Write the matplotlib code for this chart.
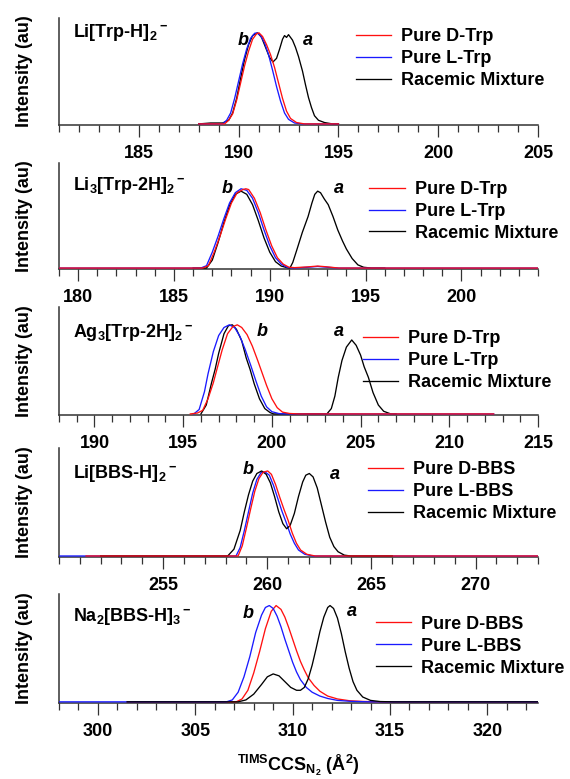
import matplotlib
matplotlib.use("Agg")
import matplotlib.pyplot as plt
from matplotlib.ticker import MultipleLocator, FixedLocator

plt.rcParams["font.family"] = ["Liberation Sans", "DejaVu Sans"]
plt.rcParams["font.weight"] = "bold"
plt.rcParams["font.size"] = 13
plt.rcParams["mathtext.fontset"] = "custom"
plt.rcParams["mathtext.rm"] = "Liberation Sans:bold"
plt.rcParams["mathtext.bf"] = "Liberation Sans:bold"
plt.rcParams["mathtext.it"] = "Liberation Sans:bold:italic"
plt.rcParams["mathtext.default"] = "bf"

# ---- panel 1: Li[Trp-H]2-
li_trp_d_x = [188.0, 189.3, 189.5, 189.7, 189.9, 190.1, 190.3, 190.5, 190.7, 190.9, 191.02,
              191.2, 191.4, 191.6, 191.8, 192.0, 192.2, 192.4, 192.6, 192.9, 193.3, 195.0]
li_trp_d_y = [0, 0, 0.04, 0.11, 0.26, 0.45, 0.64, 0.80, 0.93, 0.99, 1.0,
              0.96, 0.87, 0.76, 0.62, 0.45, 0.28, 0.14, 0.06, 0.015, 0, 0]
li_trp_l_x = [188.0, 189.2, 189.4, 189.6, 189.8, 190.0, 190.2, 190.4, 190.6, 190.8, 190.92,
              191.1, 191.3, 191.5, 191.7, 191.9, 192.1, 192.3, 192.5, 192.8, 193.2, 195.0]
li_trp_l_y = [0, 0, 0.04, 0.12, 0.28, 0.47, 0.66, 0.82, 0.94, 0.995, 1.0,
              0.97, 0.89, 0.76, 0.59, 0.41, 0.25, 0.12, 0.05, 0.01, 0, 0]
li_trp_rac_x = [188.0, 188.6, 189.2, 189.5, 189.7, 189.9, 190.1, 190.3, 190.5, 190.7, 190.95,
                191.15, 191.35, 191.55, 191.72, 191.9, 192.05, 192.2, 192.3, 192.4, 192.5,
                192.6, 192.7, 192.85, 193.0, 193.2, 193.35, 193.5, 193.65, 193.8, 194.0,
                194.3, 194.7, 195.0]
li_trp_rac_y = [0, 0.01, 0.01, 0.04, 0.12, 0.28, 0.50, 0.71, 0.87, 0.97, 1.0,
                0.95, 0.84, 0.73, 0.68, 0.72, 0.82, 0.93, 0.97, 0.95, 0.98,
                0.95, 0.92, 0.84, 0.74, 0.58, 0.43, 0.29, 0.18, 0.09, 0.04,
                0.015, 0, 0]

# ---- panel 2: Li3[Trp-2H]2-
li3_trp_d_x = [179.0, 186.5, 186.8, 187.1, 187.4, 187.7, 188.0, 188.3, 188.6, 188.75, 188.9,
               189.2, 189.5, 189.8, 190.1, 190.4, 190.7, 191.0, 191.3, 192.0, 192.5, 193.0,
               193.6, 204.0]
li3_trp_d_y = [0, 0, 0.03, 0.2, 0.40, 0.62, 0.82, 0.95, 0.99, 1.0, 0.99,
               0.88, 0.70, 0.48, 0.28, 0.13, 0.05, 0.01, 0.005, 0.015, 0.025, 0.015,
               0, 0]
li3_trp_l_x = [179.0, 186.4, 186.7, 187.0, 187.3, 187.6, 187.9, 188.2, 188.5, 188.8, 189.1,
               189.4, 189.7, 190.0, 190.3, 190.6, 190.9, 191.2, 192.0, 192.5, 193.0, 193.6,
               204.0]
li3_trp_l_y = [0, 0, 0.03, 0.2, 0.40, 0.62, 0.82, 0.95, 1.0, 0.98, 0.88,
               0.70, 0.48, 0.28, 0.13, 0.05, 0.01, 0, 0.01, 0.02, 0.01, 0,
               0]
li3_trp_rac_x = [186.0, 186.7, 187.0, 187.3, 187.6, 187.9, 188.2, 188.5, 188.8, 189.1, 189.4,
                 189.7, 190.0, 190.3, 190.6, 190.9, 191.05, 191.2, 191.4, 191.7, 192.0, 192.2,
                 192.35, 192.5, 192.65, 192.85, 193.05, 193.3, 193.55, 193.8, 194.0, 194.3,
                 194.6, 194.9, 195.3, 196.0]
li3_trp_rac_y = [0, 0, 0.1, 0.32, 0.57, 0.79, 0.93, 0.97, 0.93, 0.80, 0.60,
                 0.38, 0.2, 0.08, 0.025, 0.005, 0, 0.07, 0.22, 0.45, 0.65, 0.82,
                 0.93, 0.97, 0.95, 0.87, 0.80, 0.65, 0.48, 0.34, 0.24, 0.12,
                 0.04, 0.01, 0, 0]

# ---- panel 3: Ag3[Trp-2H]2-
ag_trp_d_x = [195.4, 195.8, 196.1, 196.4, 196.7, 196.9, 197.2, 197.5, 197.8, 198.05, 198.3,
              198.6, 198.9, 199.2, 199.45, 199.7, 200.0, 200.3, 200.6, 201.0, 201.5, 212.5]
ag_trp_d_y = [0, 0.01, 0.04, 0.17, 0.35, 0.5, 0.72, 0.9, 0.98, 1.0, 0.97,
              0.89, 0.76, 0.6, 0.46, 0.32, 0.17, 0.07, 0.02, 0.005, 0, 0]
ag_trp_l_x = [195.6, 195.9, 196.2, 196.4, 196.7, 197.0, 197.3, 197.6, 197.9, 198.2, 198.5,
              198.8, 199.1, 199.4, 199.7, 200.0, 200.4, 200.8, 212.5]
ag_trp_l_y = [0, 0.05, 0.25, 0.45, 0.70, 0.88, 0.97, 1.0, 0.97, 0.87, 0.72,
              0.55, 0.37, 0.2, 0.08, 0.025, 0.004, 0, 0]
ag_trp_rac_x = [196.0, 196.3, 196.6, 196.8, 197.0, 197.3, 197.55, 197.77, 198.0, 198.3, 198.55,
                198.77, 199.0, 199.3, 199.6, 199.9, 200.1, 203.1, 203.35, 203.55, 203.74, 203.95,
                204.2, 204.5, 204.75, 205.0, 205.2, 205.44, 205.7, 206.0, 206.3, 206.7, 207.0]
ag_trp_rac_y = [0, 0.1, 0.35, 0.5, 0.68, 0.9, 0.99, 1.0, 0.95, 0.82, 0.63,
                0.5, 0.34, 0.17, 0.06, 0.015, 0, 0, 0.06, 0.2, 0.41, 0.6,
                0.75, 0.83, 0.77, 0.66, 0.53, 0.41, 0.24, 0.1, 0.03, 0, 0]

# ---- panel 4: Li[BBS-H]2-
li_bbs_d_x = [251.3, 258.6, 258.8, 259.0, 259.2, 259.4, 259.6, 259.8, 260.02, 260.2, 260.4,
              260.6, 260.8, 261.0, 261.2, 261.4, 261.6, 261.9, 262.3, 273.0]
li_bbs_d_y = [0, 0, 0.12, 0.33, 0.55, 0.76, 0.91, 0.985, 1.0, 0.96, 0.84,
              0.69, 0.55, 0.42, 0.27, 0.15, 0.07, 0.02, 0, 0]
li_bbs_l_x = [250.0, 258.5, 258.7, 258.9, 259.1, 259.3, 259.5, 259.7, 259.89, 260.1, 260.3,
              260.5, 260.7, 260.9, 261.1, 261.3, 261.5, 261.8, 262.2, 273.0]
li_bbs_l_y = [0, 0, 0.10, 0.30, 0.52, 0.74, 0.90, 0.98, 0.99, 0.95, 0.83,
              0.68, 0.53, 0.40, 0.26, 0.15, 0.07, 0.02, 0, 0]
li_bbs_rac_x = [252.0, 258.1, 258.4, 258.7, 258.9, 259.1, 259.3, 259.5, 259.73, 259.95, 260.15,
                260.35, 260.55, 260.75, 260.93, 261.1, 261.3, 261.5, 261.7, 261.85, 262.02,
                262.2, 262.4, 262.6, 262.8, 263.0, 263.2, 263.4, 263.7, 264.0, 266.0]
li_bbs_rac_y = [0, 0, 0.08, 0.30, 0.52, 0.72, 0.88, 0.97, 1.0, 0.96, 0.86,
                0.70, 0.52, 0.38, 0.32, 0.36, 0.50, 0.70, 0.87, 0.95, 0.97,
                0.93, 0.80, 0.60, 0.40, 0.22, 0.11, 0.05, 0.01, 0, 0]

# ---- panel 5: Na2[BBS-H]3-
na_bbs_d_x = [301.5, 307.1, 307.4, 307.7, 308.0, 308.3, 308.6, 308.9, 309.15, 309.4, 309.6,
              309.8, 310.0, 310.2, 310.4, 310.6, 310.8, 311.1, 311.4, 311.8, 312.3, 312.9,
              313.6, 314.5, 322.6]
na_bbs_d_y = [0, 0, 0.03, 0.12, 0.3, 0.52, 0.76, 0.94, 1.0, 0.96, 0.88,
              0.77, 0.65, 0.53, 0.42, 0.33, 0.25, 0.17, 0.11, 0.06, 0.03, 0.012,
              0.004, 0, 0]
na_bbs_l_x = [298.0, 306.6, 306.9, 307.2, 307.5, 307.8, 308.1, 308.4, 308.6, 308.8, 309.0,
              309.2, 309.4, 309.6, 309.8, 310.0, 310.2, 310.4, 310.7, 311.0, 311.4, 311.8,
              312.3, 313.0, 314.0, 322.6]
na_bbs_l_y = [0, 0, 0.02, 0.1, 0.26, 0.47, 0.72, 0.9, 0.98, 1.0, 0.97,
              0.89, 0.78, 0.65, 0.53, 0.41, 0.31, 0.23, 0.15, 0.10, 0.06, 0.035,
              0.015, 0.005, 0, 0]
na_bbs_rac_x = [301.5, 307.2, 307.6, 308.0, 308.4, 308.7, 309.0, 309.3, 309.6, 309.9, 310.2,
                310.4, 310.6, 310.8, 311.0, 311.2, 311.4, 311.6, 311.8, 311.92, 312.1,
                312.3, 312.5, 312.7, 312.9, 313.1, 313.3, 313.6, 314.0, 314.5, 315.2, 322.6]
na_bbs_rac_y = [0, 0, 0.02, 0.08, 0.18, 0.26, 0.29, 0.27, 0.21, 0.15, 0.12,
                0.12, 0.15, 0.24, 0.38, 0.55, 0.73, 0.88, 0.98, 1.0, 0.97,
                0.87, 0.71, 0.52, 0.35, 0.21, 0.12, 0.05, 0.015, 0.003, 0, 0]

titles = [r"Li[Trp-H]$_2$$^-$", r"Li$_3$[Trp-2H]$_2$$^-$", r"Ag$_3$[Trp-2H]$_2$$^-$",
          r"Li[BBS-H]$_2$$^-$", r"Na$_2$[BBS-H]$_3$$^-$"]
legend_trp = ["Pure D-Trp", "Pure L-Trp", "Racemic Mixture"]
legend_bbs = ["Pure D-BBS", "Pure L-BBS", "Racemic Mixture"]

panels = [
    dict(d=(li_trp_d_x, li_trp_d_y), l=(li_trp_l_x, li_trp_l_y), rac=(li_trp_rac_x, li_trp_rac_y),
         xlim=(181, 205), ymax=1.163, majors=[185, 190, 195, 200, 205], names=legend_trp,
         b=(190.25, 0.92), a=(193.45, 0.92), title_y=0.82, leg=(0.62, 0.905), px=(18, 125),
         order=("rac", "l", "d")),
    dict(d=(li3_trp_d_x, li3_trp_d_y), l=(li3_trp_l_x, li3_trp_l_y), rac=(li3_trp_rac_x, li3_trp_rac_y),
         xlim=(179, 204), ymax=1.325, majors=[180, 185, 190, 195, 200], names=legend_trp,
         b=(187.8, 1.0), a=(193.6, 1.0), title_y=0.75, leg=(0.648, 0.83), px=(163, 269),
         order=("rac", "l", "d")),
    dict(d=(ag_trp_d_x, ag_trp_d_y), l=(ag_trp_l_x, ag_trp_l_y), rac=(ag_trp_rac_x, ag_trp_rac_y),
         xlim=(188, 215), ymax=1.2, majors=[190, 195, 200, 205, 210, 215], names=legend_trp,
         b=(199.45, 0.93), a=(203.75, 0.92), title_y=0.72, leg=(0.634, 0.785), px=(307, 415),
         order=("rac", "l", "d")),
    dict(d=(li_bbs_d_x, li_bbs_d_y), l=(li_bbs_l_x, li_bbs_l_y), rac=(li_bbs_rac_x, li_bbs_rac_y),
         xlim=(250, 273), ymax=1.27, majors=[255, 260, 265, 270], names=legend_bbs,
         b=(259.1, 1.02), a=(263.25, 0.96), title_y=0.725, leg=(0.645, 0.88), px=(448, 557),
         order=("l", "rac", "d")),
    dict(d=(na_bbs_d_x, na_bbs_d_y), l=(na_bbs_l_x, na_bbs_l_y), rac=(na_bbs_rac_x, na_bbs_rac_y),
         xlim=(298, 322.6), ymax=1.12, majors=[300, 305, 310, 315, 320], names=legend_bbs,
         b=(307.72, 0.92), a=(313.05, 0.94), title_y=0.75, leg=(0.662, 0.80), px=(594, 703),
         order=("d", "l", "rac")),
]

colors = {"d": "#ff1010", "l": "#1a1aff", "rac": "black"}

W, H = 570, 779
fig = plt.figure(figsize=(W / 100, H / 100), dpi=100)

for p, title in zip(panels, titles):
    top, bot = p["px"]
    ax = fig.add_axes([59 / W, 1 - bot / H, 479 / W, (bot - top) / H])
    handles = {}
    for z, key in enumerate(p["order"]):
        xs, ys = p[key]
        (ln,) = ax.plot(xs, ys, color=colors[key], lw=0.95, zorder=3 + z)
        handles[key] = ln
    ax.set_xlim(*p["xlim"])
    ax.set_ylim(-0.012, p["ymax"])
    ax.xaxis.set_major_locator(FixedLocator(p["majors"]))
    ax.xaxis.set_minor_locator(MultipleLocator(1))
    ax.set_yticks([])
    for s in ("top", "right"):
        ax.spines[s].set_visible(False)
    for s in ("left", "bottom"):
        ax.spines[s].set_linewidth(1.1)
        ax.spines[s].set_color("#333333")
    ax.tick_params(axis="x", which="major", length=8.5, width=0.9, direction="out",
                   pad=6, labelsize=13, color="#333333")
    ax.tick_params(axis="x", which="minor", length=4.8, width=0.9, direction="out",
                   color="#333333")
    for lab in ax.get_xticklabels():
        lab.set_fontweight("bold")
    ax.set_ylabel("Intensity (au)", fontsize=13, fontweight="bold")
    ax.yaxis.set_label_coords(-0.054, 0.5)
    ax.text(0.029, p["title_y"], title, transform=ax.transAxes, fontsize=13,
            fontweight="bold", va="baseline")
    ax.text(*p["b"], "b", style="italic", fontweight="bold", fontsize=13, ha="center", va="center")
    ax.text(*p["a"], "a", style="italic", fontweight="bold", fontsize=13, ha="center", va="center")
    ax.legend([handles["d"], handles["l"], handles["rac"]], p["names"],
              loc="upper left", bbox_to_anchor=p["leg"], frameon=False,
              borderpad=0, borderaxespad=0, handlelength=1.95, handletextpad=0.55,
              labelspacing=0.27, prop={"weight": "bold", "size": 13})

fig.text(298 / W, 1 - 765 / H, r"$^{TIMS}$CCS$_{N_2}$ (Å$^2$)", ha="center", va="center",
         fontsize=13, fontweight="bold")

fig.savefig("out.png", dpi=100)
